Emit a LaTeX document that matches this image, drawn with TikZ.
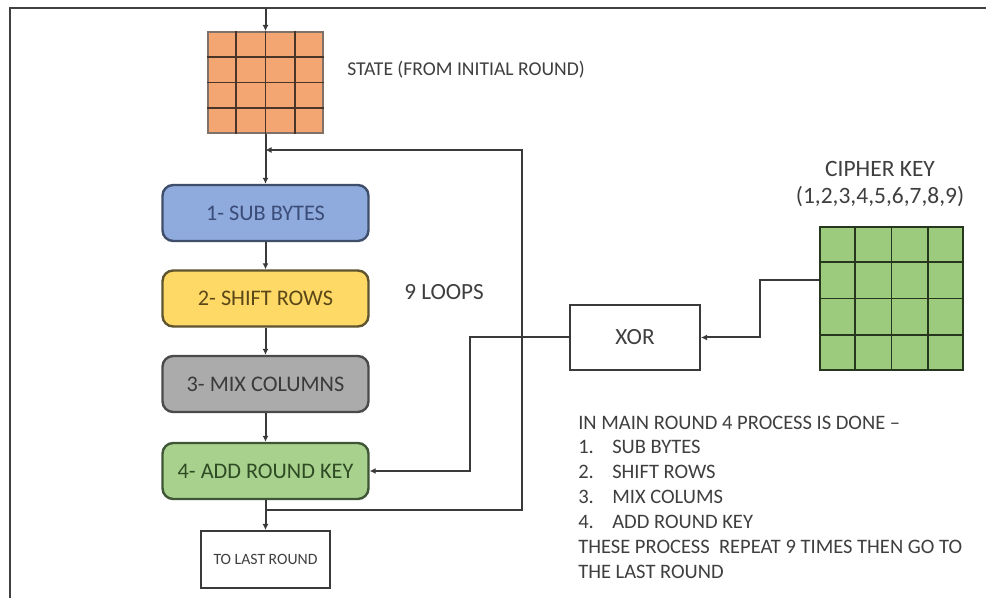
\documentclass[tikz,border=0pt]{standalone}
\usepackage{fontspec}
\setmainfont{Carlito}
\usetikzlibrary{calc,arrows.meta}

\definecolor{lineclr}{HTML}{3A3A3A}
\definecolor{txtclr}{HTML}{3F3F3F}
\definecolor{stateclr}{HTML}{F4A672}
\definecolor{stategrid}{HTML}{4A3628}
\definecolor{keyclr}{HTML}{9CCB7D}
\definecolor{keygrid}{HTML}{26361F}
\definecolor{blueclr}{HTML}{8FAADC}
\definecolor{blueedge}{HTML}{3F4E6B}
\definecolor{bluetxt}{HTML}{3A4C78}
\definecolor{yelclr}{HTML}{FFD966}
\definecolor{yeledge}{HTML}{5E5430}
\definecolor{yeltxt}{HTML}{5A4718}
\definecolor{grayclr}{HTML}{ABABAB}
\definecolor{grayedge}{HTML}{4A4A4A}
\definecolor{graytxt}{HTML}{3A3A3A}
\definecolor{grnclr}{HTML}{A9D18E}
\definecolor{grnedge}{HTML}{3E5536}
\definecolor{grntxt}{HTML}{2E4B24}

\tikzset{
  conn/.style={draw=lineclr, line width=1.5pt},
  arr/.style={conn, -{Latex[length=4.5pt,width=4.5pt]}},
  stepbox/.style={rectangle, rounded corners=8pt, line width=1.8pt,
    minimum width=154.5pt, minimum height=42pt, font=\fontsize{16.7}{18}\selectfont},
  plainbox/.style={rectangle, draw=lineclr, fill=white, line width=1.5pt},
  lbl/.style={text=txtclr, inner sep=0pt},
  grid4/.style={rectangle, inner sep=0pt, draw, line width=1.5pt}
}

\begin{document}
\begin{tikzpicture}[x=0.75pt,y=-0.75pt]
  \useasboundingbox (0,0) rectangle (986,598);
  \fill[white] (0,0) rectangle (986,598);

  % outer frame (top and left edges)
  \draw[line width=1.6pt, draw=black!75] (986,8) -- (10,8) -- (10,598);

  % state matrix
  \node[grid4, fill=stateclr, draw=stategrid!70, minimum width=86.25pt, minimum height=75.75pt]
    (state) at (265.5,82.5) {};
  \foreach \i in {1,2,3} {
    \draw[stategrid, line width=1.4pt]
      ($(state.north west)!\i/4!(state.north east)$) -- ($(state.south west)!\i/4!(state.south east)$);
    \draw[stategrid, line width=1.4pt]
      ($(state.north west)!\i/4!(state.south west)$) -- ($(state.north east)!\i/4!(state.south east)$);
  }
  \node[lbl, anchor=base west, font=\fontsize{14.7}{16}\selectfont] (statelbl) at (347,75.5)
    {STATE (FROM INITIAL ROUND)};

  % round steps
  \node[stepbox, fill=blueclr, draw=blueedge, text=bluetxt] (sb) at (265.5,213) {1- SUB BYTES};
  \node[stepbox, fill=yelclr, draw=yeledge, text=yeltxt] (sr) at (265.5,298.5) {2- SHIFT ROWS};
  \node[stepbox, fill=grayclr, draw=grayedge, text=graytxt] (mc) at (265.5,384) {3- MIX COLUMNS};
  \node[stepbox, fill=grnclr, draw=grnedge, text=grntxt] (ark) at (265.5,471) {4- ADD ROUND KEY};

  \node[plainbox, minimum width=96.75pt, minimum height=42.75pt,
        font=\fontsize{11.8}{13}\selectfont, text=txtclr] (last) at (265.5,559.5) {TO LAST ROUND};

  \node[lbl, anchor=base west, font=\fontsize{17.4}{19}\selectfont] (loops) at (404,300) {9 LOOPS};

  % key path
  \node[plainbox, minimum width=97.5pt, minimum height=48.75pt,
        font=\fontsize{17.4}{19}\selectfont, text=txtclr] (xor) at (635,337.5) {XOR};

  \node[grid4, fill=keyclr, draw=keygrid, minimum width=107.25pt, minimum height=107.25pt]
    (key) at (891.5,298.5) {};
  \foreach \i in {1,2,3} {
    \draw[keygrid, line width=1.4pt]
      ($(key.north west)!\i/4!(key.north east)$) -- ($(key.south west)!\i/4!(key.south east)$);
    \draw[keygrid, line width=1.4pt]
      ($(key.north west)!\i/4!(key.south west)$) -- ($(key.north east)!\i/4!(key.south east)$);
  }
  \node[lbl, anchor=base, font=\fontsize{17.6}{19}\selectfont] (keylbl) at (880,177) {CIPHER KEY};
  \node[lbl, anchor=base, font=\fontsize{17.6}{19}\selectfont] (keyset) at (880,204) {(1,2,3,4,5,6,7,8,9)};

  % notes
  \begin{scope}[every node/.style={lbl, anchor=base west, font=\fontsize{15.4}{17}\selectfont}]
    \node (n0) at (578,429.5) {IN MAIN ROUND 4 PROCESS IS DONE –};
    \node (n1) at (578,454) {1.};  \node (t1) at (612,454) {SUB BYTES};
    \node (n2) at (578,479) {2.};  \node (t2) at (612,479) {SHIFT ROWS};
    \node (n3) at (578,504) {3.};  \node (t3) at (612,504) {MIX COLUMS};
    \node (n4) at (578,529) {4.};  \node (t4) at (612,529) {ADD ROUND KEY};
    \node (n5) at (578,554) {THESE PROCESS\ \ REPEAT 9 TIMES THEN GO TO};
    \node (n6) at (578,579) {THE LAST ROUND};
  \end{scope}

  % connectors
  \coordinate (entry) at (state.north |- 0,8);
  \coordinate (merge) at (state.south |- 0,150);
  \coordinate (split) at (ark.south |- 0,510);
  \coordinate (loopx) at (522,0);
  \coordinate (xorx) at (470,0);
  \coordinate (keyout) at ($(key.north west)!0.37!(key.south west)$);
  \coordinate (keyx) at (760,0);

  \draw[arr] (entry) -- (state.north);
  \draw[arr] (state.south) -- (sb.north);
  \draw[arr] (split) -- (split -| loopx) -- (merge -| loopx) -- (merge);
  \draw[arr] (sb.south) -- (sr.north);
  \draw[arr] (sr.south) -- (mc.north);
  \draw[arr] (mc.south) -- (ark.north);
  \draw[arr] (ark.south) -- (last.north);
  \draw[arr] (xor.west) -- (xor.west -| xorx) -- (ark.east -| xorx) -- (ark.east);
  \draw[arr] (keyout) -- (keyout -| keyx) -- (xor.east -| keyx) -- (xor.east);
\end{tikzpicture}
\end{document}
